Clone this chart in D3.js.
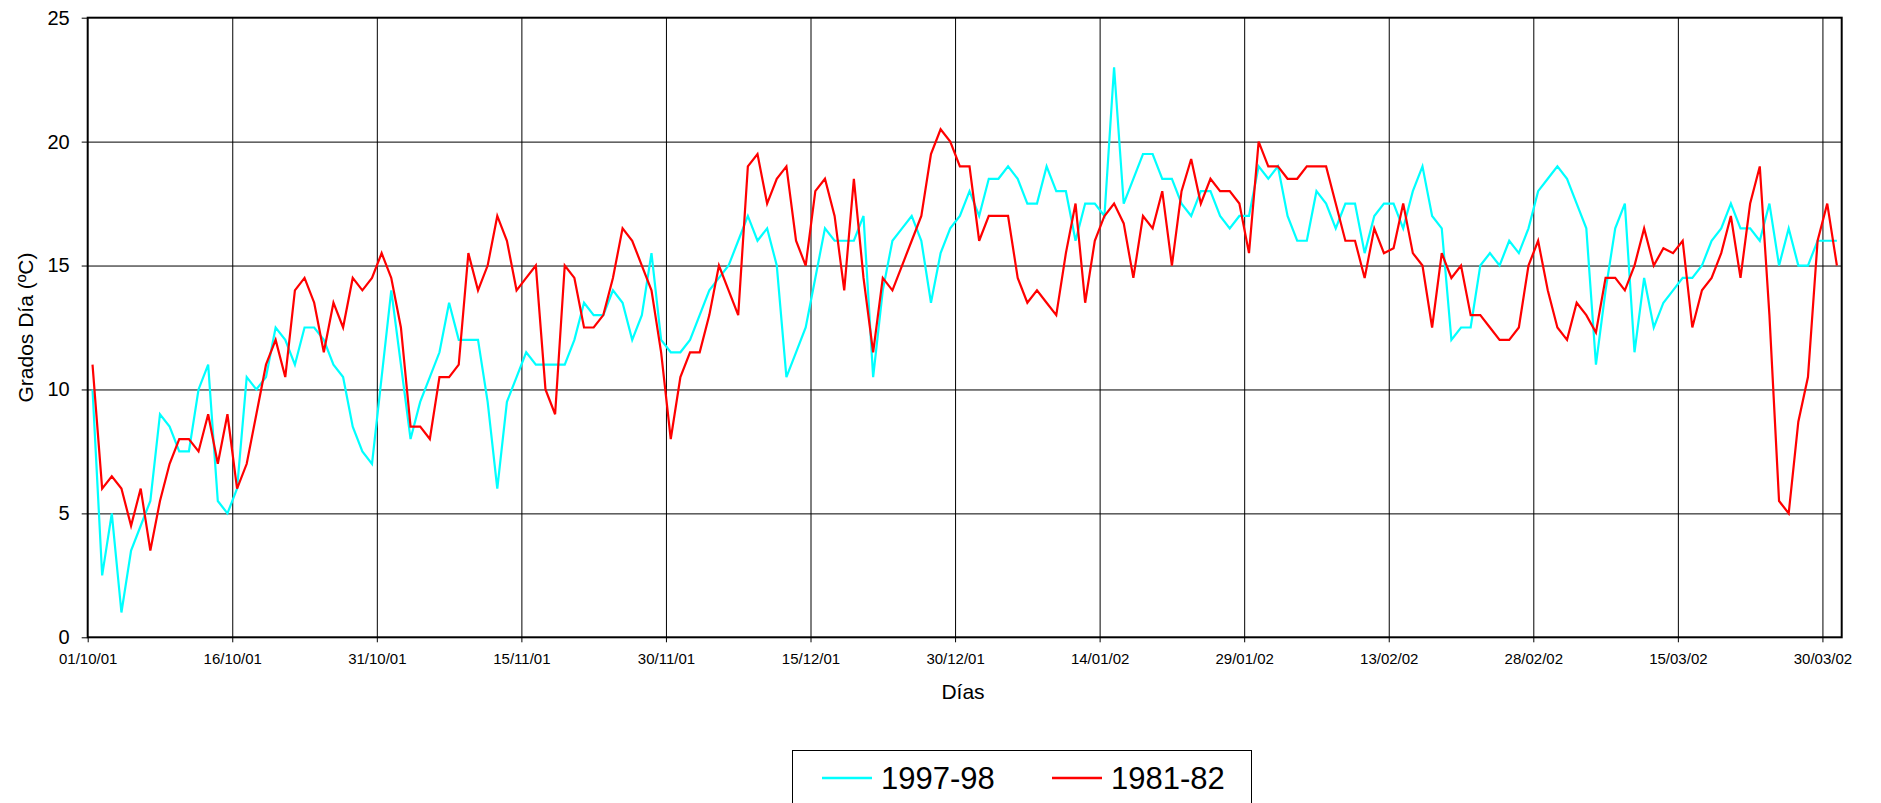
<!DOCTYPE html>
<html>
<head>
<meta charset="utf-8">
<script src="https://cdn.jsdelivr.net/npm/d3@7"></script>
<style>
  body { margin: 0; background: #fff; }
  svg { display: block; font-family: "Liberation Sans", Arial, sans-serif; }
</style>
</head>
<body>
<div class="chart-grados"></div>
<script>
// days of the heating season, one value per day
const startDay = `01/10/01`;
const endDay = `01/04/02`;
const seriesNames = [`1997-98`, `1981-82`];
const seriesColors = [`#00ffff`, `#ff0000`];

const values9798 = [
  10, 2.5, 5, 1, 3.5, 4.5, 5.5, 9, 8.5, 7.5,
  7.5, 10, 11, 5.5, 5, 6, 10.5, 10, 10.5, 12.5,
  12, 11, 12.5, 12.5, 12, 11, 10.5, 8.5, 7.5, 7,
  10.5, 14, 11, 8, 9.5, 10.5, 11.5, 13.5, 12, 12,
  12, 9.5, 6, 9.5, 10.5, 11.5, 11, 11, 11, 11,
  12, 13.5, 13, 13, 14, 13.5, 12, 13, 15.5, 12,
  11.5, 11.5, 12, 13, 14, 14.5, 15, 16, 17, 16,
  16.5, 15, 10.5, 11.5, 12.5, 14.5, 16.5, 16, 16, 16,
  17, 10.5, 14, 16, 16.5, 17, 16, 13.5, 15.5, 16.5,
  17, 18, 17, 18.5, 18.5, 19, 18.5, 17.5, 17.5, 19,
  18, 18, 16, 17.5, 17.5, 17, 23, 17.5, 18.5, 19.5,
  19.5, 18.5, 18.5, 17.5, 17, 18, 18, 17, 16.5, 17,
  17, 19, 18.5, 19, 17, 16, 16, 18, 17.5, 16.5,
  17.5, 17.5, 15.5, 17, 17.5, 17.5, 16.5, 18, 19, 17,
  16.5, 12, 12.5, 12.5, 15, 15.5, 15, 16, 15.5, 16.5,
  18, 18.5, 19, 18.5, 17.5, 16.5, 11, 14, 16.5, 17.5,
  11.5, 14.5, 12.5, 13.5, 14, 14.5, 14.5, 15, 16, 16.5,
  17.5, 16.5, 16.5, 16, 17.5, 15, 16.5, 15, 15, 16,
  16, 16
];

const values8182 = [
  11, 6, 6.5, 6, 4.5, 6, 3.5, 5.5, 7, 8,
  8, 7.5, 9, 7, 9, 6, 7, 9, 11, 12,
  10.5, 14, 14.5, 13.5, 11.5, 13.5, 12.5, 14.5, 14, 14.5,
  15.5, 14.5, 12.5, 8.5, 8.5, 8, 10.5, 10.5, 11, 15.5,
  14, 15, 17, 16, 14, 14.5, 15, 10, 9, 15,
  14.5, 12.5, 12.5, 13, 14.5, 16.5, 16, 15, 14, 11.5,
  8, 10.5, 11.5, 11.5, 13, 15, 14, 13, 19, 19.5,
  17.5, 18.5, 19, 16, 15, 18, 18.5, 17, 14, 18.5,
  14.5, 11.5, 14.5, 14, 15, 16, 17, 19.5, 20.5, 20,
  19, 19, 16, 17, 17, 17, 14.5, 13.5, 14, 13.5,
  13, 15.5, 17.5, 13.5, 16, 17, 17.5, 16.7, 14.5, 17,
  16.5, 18, 15, 18, 19.3, 17.5, 18.5, 18, 18, 17.5,
  15.5, 20, 19, 19, 18.5, 18.5, 19, 19, 19, 17.5,
  16, 16, 14.5, 16.5, 15.5, 15.7, 17.5, 15.5, 15, 12.5,
  15.5, 14.5, 15, 13, 13, 12.5, 12, 12, 12.5, 15,
  16, 14, 12.5, 12, 13.5, 13, 12.3, 14.5, 14.5, 14,
  15, 16.5, 15, 15.7, 15.5, 16, 12.5, 14, 14.5, 15.5,
  17, 14.5, 17.5, 19, 13, 5.5, 5, 8.7, 10.5, 16,
  17.5, 15
];

const yTicks = [0, 5, 10, 15, 20, 25];
const xTickLabels = [
  `01/10/01`, `16/10/01`, `31/10/01`, `15/11/01`, `30/11/01`, `15/12/01`, `30/12/01`,
  `14/01/02`, `29/01/02`, `13/02/02`, `28/02/02`, `15/03/02`, `30/03/02`
];

const parseDay = d3.utcParse(`%d/%m/%y`);
const fmtDay = d3.utcFormat(`%d/%m/%y`);

const W = 1881;
const H = 803;
const margin = { top: 17.7, right: 39.3, bottom: 165.7, left: 87.7 };
const width = W - margin.left - margin.right;
const height = H - margin.top - margin.bottom;

const days = d3.utcDay.range(parseDay(startDay), parseDay(endDay));
const midDay = d => d3.utcHour.offset(d, 12);

const x = d3.scaleUtc()
  .domain([parseDay(startDay), parseDay(endDay)])
  .range([0, width]);
const y = d3.scaleLinear()
  .domain([0, 25])
  .range([height, 0]);

const svg = d3.select(`.chart-grados`).append(`svg`)
    .attr(`width`, W)
    .attr(`height`, H);
const g = svg.append(`g`)
    .attr(`transform`, `translate(${margin.left},${margin.top})`);

// horizontal grid
g.append(`g`)
  .call(d3.axisLeft(y).tickValues(yTicks.slice(1, -1)).tickSize(-width).tickFormat(``))
  .call(s => s.select(`.domain`).remove())
  .selectAll(`line`).attr(`stroke`, `#000`);

// vertical grid
g.append(`g`)
  .attr(`transform`, `translate(0,${height})`)
  .call(d3.axisBottom(x).tickValues(xTickLabels.map(parseDay).slice(1)).tickSize(-height).tickFormat(``))
  .call(s => s.select(`.domain`).remove())
  .selectAll(`line`).attr(`stroke`, `#000`);

// y axis
g.append(`g`)
  .call(d3.axisLeft(y).tickValues(yTicks).tickSize(6).tickPadding(12))
  .call(s => s.select(`.domain`).remove())
  .call(s => s.selectAll(`line`).attr(`stroke`, `#000`))
  .selectAll(`text`)
    .attr(`font-size`, 20)
    .attr(`font-family`, `"Liberation Sans", Arial, sans-serif`)
    .attr(`fill`, `#000`);

// x axis
g.append(`g`)
  .attr(`transform`, `translate(0,${height})`)
  .call(d3.axisBottom(x).tickValues(xTickLabels.map(parseDay)).tickFormat(fmtDay).tickSize(5).tickPadding(11))
  .call(s => s.select(`.domain`).remove())
  .call(s => s.selectAll(`line`).attr(`stroke`, `#000`))
  .selectAll(`text`)
    .attr(`font-size`, 15)
    .attr(`font-family`, `"Liberation Sans", Arial, sans-serif`)
    .attr(`fill`, `#000`);

// frame
g.append(`rect`)
  .attr(`width`, width)
  .attr(`height`, height)
  .attr(`fill`, `none`)
  .attr(`stroke`, `#000`)
  .attr(`stroke-width`, 2);

const line = d3.line()
  .x((d, i) => x(midDay(days[i])))
  .y(d => y(d));

[values9798, values8182].forEach((vals, k) => {
  g.append(`path`)
    .datum(vals)
    .attr(`fill`, `none`)
    .attr(`stroke`, seriesColors[k])
    .attr(`stroke-width`, 2.2)
    .attr(`stroke-linejoin`, `miter`)
    .attr(`d`, line);
});

// axis titles
svg.append(`text`)
  .attr(`transform`, `translate(33,${margin.top + height / 2}) rotate(-90)`)
  .attr(`text-anchor`, `middle`)
  .attr(`font-size`, 21)
  .text(`Grados Día (ºC)`);

svg.append(`text`)
  .attr(`x`, 963)
  .attr(`y`, 699)
  .attr(`text-anchor`, `middle`)
  .attr(`font-size`, 21)
  .text(`Días`);

// legend
const legend = svg.append(`g`);
legend.append(`rect`)
  .attr(`x`, 792.5)
  .attr(`y`, 750.5)
  .attr(`width`, 459)
  .attr(`height`, 80)
  .attr(`fill`, `#fff`)
  .attr(`stroke`, `#000`);

const legendX = [822, 1052];
seriesNames.forEach((name, k) => {
  legend.append(`line`)
    .attr(`x1`, legendX[k])
    .attr(`x2`, legendX[k] + 50)
    .attr(`y1`, 778)
    .attr(`y2`, 778)
    .attr(`stroke`, seriesColors[k])
    .attr(`stroke-width`, 2.5);
  legend.append(`text`)
    .attr(`x`, legendX[k] + 59)
    .attr(`y`, 789)
    .attr(`font-size`, 31)
    .text(name);
});
</script>
</body>
</html>
